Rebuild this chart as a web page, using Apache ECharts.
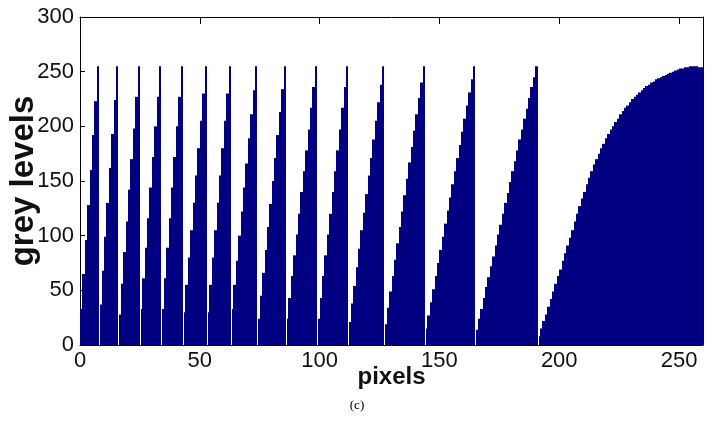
<!DOCTYPE html>
<html>
<head>
<meta charset="utf-8">
<script src="https://cdn.jsdelivr.net/npm/echarts@6/dist/echarts.min.js"></script>
<style>
	html, body {margin: 0; padding: 0; background: #fff;}
	#chart {width: 714px; height: 430px;}
</style>
</head>
<body>
<div id="chart"></div>
<script>
// grey level of each pixel 0..259, one line per ramp
var greyLevels = [
	33, 65, 96, 128, 160, 192, 223, 255,
	37, 68, 99, 130, 162, 193, 224, 255,
	28, 56, 85, 113, 142, 170, 198, 227, 255,
	33, 61, 89, 116, 144, 172, 200, 227, 255,
	33, 61, 89, 116, 144, 172, 200, 227, 255,
	30, 55, 80, 105, 130, 155, 180, 205, 230, 255,
	30, 55, 80, 105, 130, 155, 180, 205, 230, 255,
	33, 55, 77, 100, 122, 144, 166, 189, 211, 233, 255,
	24, 45, 66, 87, 108, 129, 150, 171, 192, 213, 234, 255,
	24, 43, 63, 82, 101, 120, 140, 159, 178, 197, 217, 236, 255,
	24, 43, 63, 82, 101, 120, 140, 159, 178, 197, 217, 236, 255,
	21, 38, 54, 71, 88, 105, 121, 138, 155, 171, 188, 205, 222, 238, 255,
	19, 34, 49, 63, 78, 93, 108, 122, 137, 152, 167, 181, 196, 211, 226, 240, 255,
	15, 27, 39, 51, 63, 75, 87, 99, 111, 123, 135, 147, 159, 171, 183, 195, 207, 219, 231, 243, 255,
	14, 24, 33, 43, 53, 62, 72, 81, 91, 101, 110, 120, 130, 139, 149, 159, 168, 178, 188, 197, 207, 216, 226, 236, 245, 255,
	8, 15, 22, 28, 35, 42, 49, 56, 63, 69,
	77, 84, 91, 98, 105, 113, 120, 127, 134, 140,
	147, 153, 159, 165, 170, 175, 180, 184, 189, 193,
	197, 200, 204, 207, 211, 214, 217, 219, 222, 225,
	227, 229, 231, 233, 235, 237, 238, 240, 241, 243,
	244, 245, 246, 247, 248, 249, 250, 251, 252, 253,
	253, 254, 254, 255, 255, 255, 255, 254, 254
];
var xRange = [0, 260];
var yRange = [0, 300];
var xStep = 50;
var yStep = 50;
var xName = 'pixels';
var yName = 'grey levels';
var caption = '(c)';

var chart = echarts.init(document.getElementById('chart'), null, {renderer: 'canvas'});

// pixel k covers [k, k+1]
var bars = [];
for (var k = 0; k < greyLevels.length; k++) {
	bars.push([k, k + 1, greyLevels[k]]);
}

var font = 'Liberation Sans, Arial, Helvetica, sans-serif';
var ink = '#111';

function frameAxis(pos, range, step, len) {
	return {
		type: 'value',
		position: pos,
		min: range[0],
		max: range[1],
		interval: step,
		axisLine: {show: true, onZero: false, lineStyle: {color: '#000', width: 1}},
		axisTick: {show: true, inside: true, length: len, lineStyle: {color: '#000'}},
		axisLabel: {show: false},
		splitLine: {show: false}
	};
}

function renderBar(params, api) {
	var i = params.dataIndex;
	var lo = api.coord([api.value(0), 0]);
	var hi = api.coord([api.value(1), api.value(2)]);
	// snap to whole pixels so columns butt without seams
	var x0 = Math.round(lo[0]);
	var x1 = Math.round(hi[0]);
	// a ramp restarts on a big drop: leave the thin white line of the original
	if (i > 0 && greyLevels[i - 1] - greyLevels[i] > 100) {
		x0 += 1;
	}
	return {
		type: 'rect',
		shape: {x: x0, y: hi[1], width: x1 - x0, height: lo[1] - hi[1]},
		style: {fill: '#000080'}
	};
}

var option = {
	animation: false,
	backgroundColor: '#fff',
	grid: {left: 80, right: 11, top: 17, bottom: 85, outerBoundsMode: 'none', containLabel: false},
	xAxis: [{
		type: 'value',
		position: 'bottom',
		min: xRange[0],
		max: xRange[1],
		interval: xStep,
		name: xName,
		nameLocation: 'middle',
		nameGap: 20,
		nameMoveOverlap: false,
		nameTextStyle: {fontFamily: font, fontSize: 24, fontWeight: 'bold', color: ink},
		axisLine: {show: true, onZero: false, lineStyle: {color: '#000', width: 1}},
		axisTick: {show: true, inside: true, length: 7, lineStyle: {color: '#000'}},
		axisLabel: {fontFamily: font, fontSize: 22, color: ink, margin: 5, showMaxLabel: false},
		splitLine: {show: false}
	}, frameAxis('top', xRange, xStep, 7)],
	yAxis: [{
		type: 'value',
		position: 'left',
		min: yRange[0],
		max: yRange[1],
		interval: yStep,
		name: yName,
		nameLocation: 'middle',
		nameGap: 40,
		nameMoveOverlap: false,
		nameTextStyle: {fontFamily: font, fontSize: 33, fontWeight: 'bold', color: ink},
		axisLine: {show: true, onZero: false, lineStyle: {color: '#000', width: 1}},
		axisTick: {show: true, inside: true, length: 5, lineStyle: {color: '#000'}},
		axisLabel: {fontFamily: font, fontSize: 22, color: ink, margin: 6},
		splitLine: {show: false}
	}, frameAxis('right', yRange, yStep, 5)],
	graphic: [{
		type: 'text',
		left: 'center',
		top: 399,
		style: {text: caption, font: '13px "Liberation Serif", "Times New Roman", serif', fill: '#000'}
	}],
	series: [{
		type: 'custom',
		xAxisIndex: 0,
		yAxisIndex: 0,
		data: bars,
		encode: {x: [0, 1], y: 2},
		renderItem: renderBar,
		clip: true,
		silent: true
	}]
};
chart.setOption(option);
</script>
</body>
</html>
